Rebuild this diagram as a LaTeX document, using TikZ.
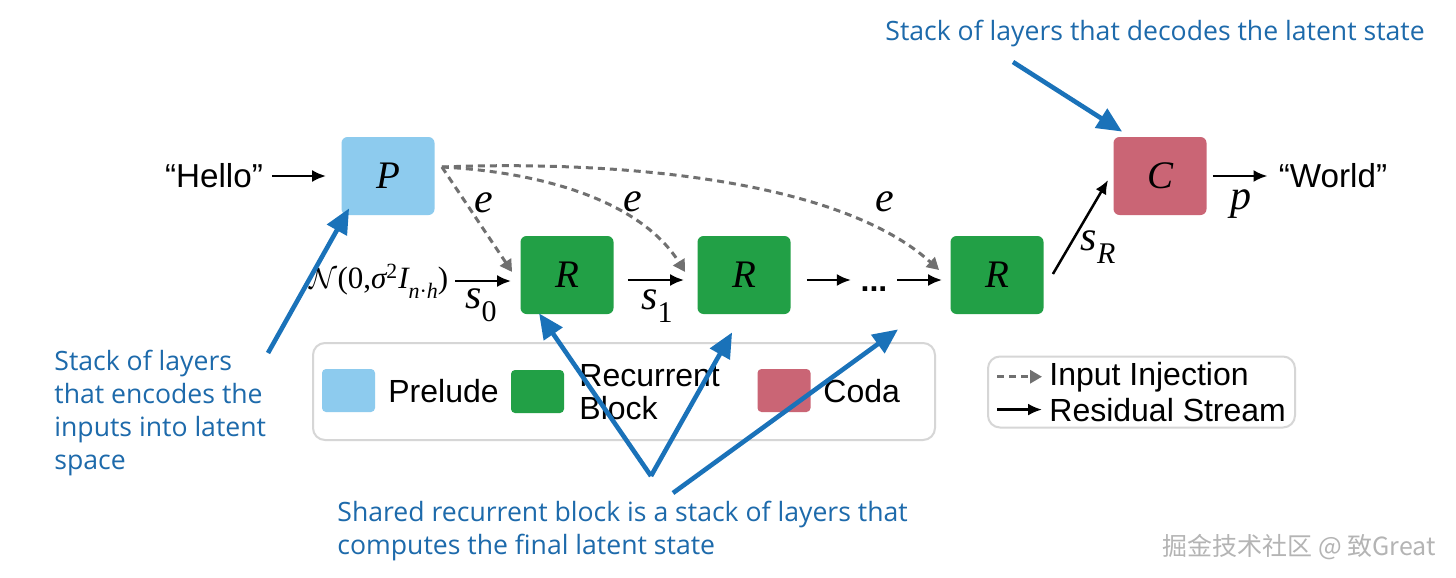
\documentclass[tikz,border=0pt]{standalone}
\usepackage{fontspec}
\setmainfont{Liberation Sans}
\newfontfamily\tms{Liberation Serif}
\newfontfamily\opens{Open Sans}
\newfontfamily\cjk{Noto Sans CJK SC}
\usetikzlibrary{arrows.meta,calc}
\definecolor{prel}{HTML}{8DCBEE}
\definecolor{recb}{HTML}{22A046}
\definecolor{coda}{HTML}{CA6575}
\definecolor{annot}{HTML}{1A72B9}
\definecolor{annottext}{HTML}{1D6AAB}
\definecolor{inj}{HTML}{707070}
\definecolor{legline}{HTML}{D6D6D6}
\definecolor{wmark}{HTML}{B4B4B4}
\newcommand\mi[1]{{\tms\itshape #1}}
\newcommand\sbs[1]{\raisebox{-0.32em}{\fontsize{15}{15}\selectfont #1}}
\newcommand\sbn[1]{\raisebox{-0.3em}{\fontsize{11}{11}\selectfont #1}}
\begin{document}
\begin{tikzpicture}[x=0.5pt,y=-0.5pt,
  blk/.style={minimum width=46.5pt,minimum height=39pt,rounded corners=3pt,inner sep=0pt,font=\fontsize{19.5}{19.5}\selectfont},
  sq/.style={minimum width=26.5pt,minimum height=21.5pt,rounded corners=2pt,inner sep=0pt},
  sans/.style={font=\fontsize{16}{18}\selectfont,inner sep=0pt},
  lbl/.style={font=\fontsize{21}{21}\selectfont,inner sep=0pt},
  resid/.style={-{Latex[length=7pt,width=6pt]},line width=1.25pt},
  injarrow/.style={-{Triangle[length=6pt,width=6.5pt]},inj,line width=1.5pt,dash pattern=on 3.5pt off 2.5pt},
  annarrow/.style={-{Triangle[length=12.5pt,width=11pt]},annot,line width=2.3pt},
  anntext/.style={font=\opens\fontsize{13.3}{16.5}\selectfont,text=annottext,inner sep=0pt,align=left},
  legbox/.style={draw=legline,line width=1pt,rounded corners=6pt,inner sep=0pt},
]
\useasboundingbox (0,0) rectangle (1456,578);
\fill[white] (0,0) rectangle (1456,578);

% main blocks
\node[blk,fill=prel] (P) at (388,176) {\mi{P}};
\node[blk,fill=recb] (R1) at (567,275) {\mi{R}};
\node[blk,fill=recb] (R2) at (744,275) {\mi{R}};
\node[blk,fill=recb] (R3) at (997,275) {\mi{R}};
\node[blk,fill=coda] (C) at (1160,176) {\mi{C}};

\node[sans,font=\fontsize{16.6}{18}\selectfont,anchor=base] (hello) at (214,187) {“Hello”};
\node[sans,font=\fontsize{16.6}{18}\selectfont,anchor=base] (world) at (1333,187) {“World”};
\node[sans,anchor=base] (dots) at (874,291) {\textbf{...}};
\node[inner sep=0pt,font=\fontsize{15.5}{15.5}\selectfont] (nlab) at (379,281)
  {$\mathcal{N}$\tms(0,\mi{σ}\textsuperscript{2}\mi{I}\sbn{\mi{n}·\mi{h}})};

% labels
\node[lbl] (s0) at (481,305) {\mi{s}\sbs{\tms 0}};
\node[lbl] (s1) at (657,306) {\mi{s}\sbs{\tms 1}};
\node[lbl] (sR) at (1098,247) {\mi{s}\sbs{\mi{R}}};
\node[lbl] (pl) at (1241,204) {\mi{p}};
\node[lbl] (e1) at (484,203) {\mi{e}};
\node[lbl] (e2) at (633,202) {\mi{e}};
\node[lbl] (e3) at (885,202) {\mi{e}};

% residual stream
\draw[resid,shorten <=4.5pt,shorten >=7.5pt] (hello.east |- P.west) -- (P.west);
\draw[resid] ($(R1.west)+(-65,6)$) -- ($(R1.west)+(-9,6)$);
\draw[resid] ($(R1.east)+(14,5)$) -- ($(R2.west)+(-13,5)$);
\draw[resid] ($(R2.east)+(16,5)$) -- ($(R2.east)+(60,5)$);
\draw[resid] ($(R3.west)+(-53,5)$) -- ($(R3.west)+(-8,5)$);
\draw[resid] ($(R3.east)+(9,-1)$) -- ($(C.west)+(-5,4)$);
\draw[resid] ($(C.east)+(6,0)$) -- ($(world.west |- C.east)+(-11,0)$);

% input injection
\coordinate (pout) at ($(P.east)+(7,-9)$);
\draw[injarrow] (pout) -- ($(R1.west)+(-8,-3)$);
\draw[injarrow] (pout) .. controls (540,172) and (640,200) .. ($(R2.west)+(-12,-3)$);
\draw[injarrow] (pout) .. controls (620,160) and (840,180) .. ($(R3.west)+(-11,-5)$);

% legend 1
\node[legbox,minimum width=311pt,minimum height=48.5pt] (leg1) at (624,391.5) {};
\node[sq,fill=prel] (sqP) at (348.5,390.5) {};
\node[sq,fill=recb] (sqR) at (537.5,391.5) {};
\node[sq,fill=coda] (sqC) at (784,390.5) {};
\node[sans,anchor=base west] (tP) at (388,402) {Prelude};
\node[sans,anchor=base west] (tR1) at (579,386) {Recurrent};
\node[sans,anchor=base west] (tR2) at (579,419) {Block};
\node[sans,anchor=base west] (tC) at (823,402) {Coda};

% legend 2
\node[legbox,minimum width=153.5pt,minimum height=35.5pt] (leg2) at (1141.5,392) {};
\node[sans,anchor=base west] (tInj) at (1049,385) {Input Injection};
\node[sans,anchor=base west] (tRes) at (1049,421) {Residual Stream};
\draw[injarrow] ($(tInj.west)+(-52,0)$) -- ($(tInj.west)+(-7,0)$);
\draw[resid] ($(tRes.west)+(-52,0)$) -- ($(tRes.west)+(-7,0)$);

% annotations
\node[anntext,anchor=base west] (adec) at (885,40) {Stack of layers that decodes the latent state};
\node[anntext,anchor=north west] (aenc) at (54,350) {Stack of layers\\that encodes the\\inputs into latent\\space};
\node[anntext,anchor=north west] (ashr) at (337,501) {Shared recurrent block is a stack of layers that\\computes the final latent state};
\coordinate (encTail) at (268,353);
\coordinate (decTail) at (1013,62);
\coordinate (shTail) at (651,476);
\coordinate (shTailB) at (673,493);
\draw[annarrow] (encTail) -- ($(P.south west)+(8,-7)$);
\draw[annarrow] (decTail) -- ($(C.north west)+(9,-5)$);
\draw[annarrow] (shTail) -- ($(R1.south west)+(19,-1)$);
\draw[annarrow] (shTail) -- ($(R2.south west)+(35,18)$);
\draw[annarrow] (shTailB) -- ($(dots.south)+(24,38)$);

% watermark
\node[font=\cjk\fontsize{12.5}{12.5}\selectfont,text=wmark,anchor=base east,inner sep=0pt] (wm) at (1436,555) {掘金技术社区 @ 致Great};
\end{tikzpicture}
\end{document}
